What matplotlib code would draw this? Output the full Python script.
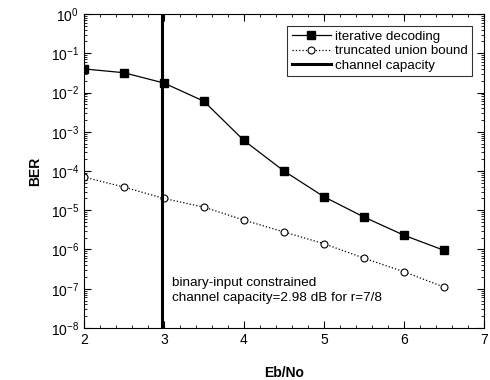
import matplotlib
matplotlib.use("Agg")
import matplotlib.pyplot as plt
from matplotlib.ticker import LogLocator, NullFormatter, MultipleLocator

plt.rcParams["font.family"] = ["Liberation Sans", "DejaVu Sans"]

ebno = [2.0, 2.5, 3.0, 3.5, 4.0, 4.5, 5.0, 5.5, 6.0, 6.5]
ber_iterative = [4.0e-2, 3.2e-2, 1.75e-2, 6.0e-3, 6.0e-4, 1.0e-4, 2.2e-5, 6.7e-6, 2.3e-6, 9.5e-7]
ber_union = [7.0e-5, 3.9e-5, 2.0e-5, 1.2e-5, 5.6e-6, 2.8e-6, 1.4e-6, 6.0e-7, 2.7e-7, 1.1e-7]
capacity_db = 2.98

fig = plt.figure(figsize=(4.9, 3.8), dpi=100)
ax = fig.add_axes([0.171, 0.137, 0.817, 0.826])

ax.semilogy(ebno, ber_iterative, "-", color="black", lw=0.9, marker="s", ms=6,
            label="iterative decoding")
ax.semilogy(ebno, ber_union, ":", color="black", lw=0.9, marker="o", ms=5,
            mfc="white", mew=0.8, label="truncated union bound")
ax.axvline(capacity_db, color="black", lw=2.2, label="channel capacity")

ax.set_xlim(2, 7)
ax.set_ylim(1e-8, 1)
ax.xaxis.set_major_locator(MultipleLocator(1))
ax.xaxis.set_minor_locator(MultipleLocator(0.2))
ax.yaxis.set_major_locator(LogLocator(base=10, numticks=12))
ax.yaxis.set_minor_locator(LogLocator(base=10, subs=range(2, 10), numticks=12))
ax.yaxis.set_minor_formatter(NullFormatter())
ax.tick_params(which="both", direction="in", top=True, right=True, labelsize=10)
ax.tick_params(which="major", length=5)
ax.tick_params(which="minor", length=2.5)

ax.set_xlabel("Eb/No", fontweight="bold", fontsize=10, labelpad=14)
ax.set_ylabel("BER", fontweight="bold", fontsize=10, labelpad=6)

ax.text(3.1, 10**-7.05, "binary-input constrained\nchannel capacity=2.98 dB for r=7/8",
        fontsize=9.7, va="center", ha="left", linespacing=1.3)

leg = ax.legend(loc="upper right", fontsize=9.6, frameon=True, fancybox=False,
                edgecolor="black", borderpad=0.35, handlelength=2.9, labelspacing=0.15,
                handletextpad=0.3, borderaxespad=0.9)
leg.get_frame().set_linewidth(0.8)

fig.savefig("out.png", dpi=100)
